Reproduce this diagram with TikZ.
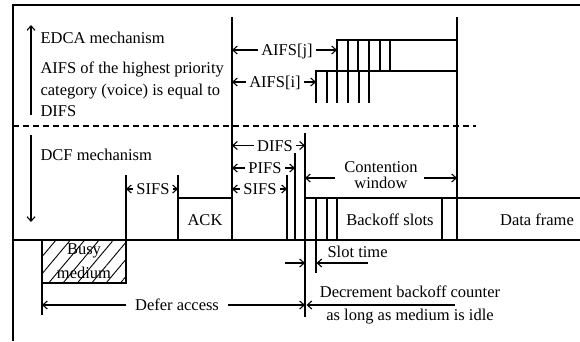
\documentclass[tikz,border=0pt]{standalone}
\usepackage{fontspec}
\setmainfont{Liberation Serif}
\usetikzlibrary{arrows.meta,patterns.meta}
\begin{document}
\begin{tikzpicture}[x=1pt,y=-1pt,line width=1.1pt,
  >={Straight Barb[length=4.5pt,width=8pt]},
  txt/.style={font=\fontsize{16.5}{20}\selectfont,inner sep=0pt},
  lbl/.style={txt,text height=11pt,text depth=0pt,inner xsep=3pt},
  frame/.style={line width=2.2pt},
  dashline/.style={dash pattern=on 6pt off 4pt},
  hatch/.style={pattern={Lines[angle=50,distance=11pt,line width=0.9pt]}}]
\useasboundingbox (0,0) rectangle (580,341);
% frame
\draw[frame] (13,341) -- (13,5) -- (580,5);
% mechanism arrows
\coordinate (eA) at (31,115); \coordinate (eB) at (31,25);
\coordinate (dA) at (31,135); \coordinate (dB) at (31,222);
\draw[->] (eA) -- (eB);
\draw[->] (dA) -- (dB);
% separator
\draw[dashline] (13,126) -- (476,126);
% long verticals and baseline
\coordinate (xA) at (232,17);
\coordinate (xR) at (457,17);
\draw (xA) -- (232,240);
\draw (xR) -- (457,240);
\draw (13,240) -- (580,240);
% AIFS stairs
\draw (337,71) -- (337,40) -- (457,40);
\foreach \x in {348,358,369,380,390} \draw (\x,40) -- (\x,71);
\draw (316,103) -- (316,71) -- (457,71);
\foreach \x in {327,337,348,359,369} \draw (\x,71) -- (\x,103);
% DCF lines
\coordinate (xS1) at (126,175);
\coordinate (xS2) at (178,175);
\coordinate (xS) at (287,175);
\coordinate (xP) at (295,153);
\coordinate (xD) at (305,133);
\draw (xS1) -- (126,240);
\draw (xS2) -- (178,240);
\draw (178,198) -- (232,198);
\draw (xS) -- (287,240);
\draw (xP) -- (295,241);
\draw (xD) -- (305,317);
\draw (305,198) -- (580,198);
\draw (316,198) -- (316,273);
\draw (327,198) -- (327,240);
\draw (337,198) -- (337,240);
\draw (442,198) -- (442,240);
% busy medium
\draw[hatch] (42,240) rectangle (126,283);
\draw (42,283) -- (42,315);
\node[txt,anchor=base] (busy) at (84,254) {Busy};
\node[txt,anchor=base] (medium) at (84,278) {medium};
% left texts
\node[txt,anchor=base west] (edca) at (40,43.3) {EDCA mechanism};
\node[txt,anchor=base west] (a1) at (40,73.5) {AIFS of the highest priority};
\node[txt,anchor=base west] (a2) at (40,95.7) {category (voice) is equal to};
\node[txt,anchor=base west] (a3) at (40,116.7) {DIFS};
\node[txt,anchor=base west] (dcf) at (40,160) {DCF mechanism};
% AIFS arrows
\node[lbl] (aj) at (287,50) {AIFS[j]};
\draw[->] (aj.west) -- (aj.west -| xA);
\draw[->] (aj.east) -- (337,50);
\node[lbl] (ai) at (275,82) {AIFS[i]};
\draw[->] (ai.west) -- (ai.west -| xA);
\draw[->] (ai.east) -- (316,82);
% DIFS / PIFS / SIFS
\node[lbl] (difs) at (275,145.5) {DIFS};
\draw[->] (difs.west) -- (difs.west -| xA);
\draw[->] (difs.east) -- (difs.east -| xD);
\node[lbl] (pifs) at (265,168) {PIFS};
\draw[->] (pifs.west) -- (pifs.west -| xA);
\draw[->] (pifs.east) -- (pifs.east -| xP);
\node[lbl] (sifsb) at (260,189) {SIFS};
\draw[->] (sifsb.west) -- (sifsb.west -| xA);
\draw[->] (sifsb.east) -- (sifsb.east -| xS);
\node[lbl] (sifsa) at (153,189) {SIFS};
\draw[->] (sifsa.west) -- (sifsa.west -| xS1);
\draw[->] (sifsa.east) -- (sifsa.east -| xS2);
% contention window
\node[txt,anchor=base] (cw1) at (381,172.5) {Contention};
\node[txt,anchor=base] (cw2) at (381,188) {window};
\coordinate (cwl) at (335,178);
\coordinate (cwr) at (424,178);
\draw[->] (cwl) -- (cwl -| xD);
\draw[->] (cwr) -- (cwr -| xR);
% boxes
\node[lbl] (ack) at (205,220) {ACK};
\node[lbl] (bo) at (390,220) {Backoff slots};
\node[lbl] (df) at (537,220) {Data frame};
% slot time
\node[txt,anchor=base west] (slot) at (327,257) {Slot time};
\coordinate (stl) at (285,263);
\coordinate (str) at (368,263);
\draw[->] (stl) -- (305,263);
\draw[->] (str) -- (316.5,263);
% defer access
\node[lbl,inner xsep=9pt] (defer) at (177,305) {Defer access};
\draw[->] (defer.west) -- (42,305);
\draw[->] (defer.east) -- (305,305);
% decrement
\node[txt,anchor=base] (dec1) at (410,297) {Decrement backoff counter};
\node[txt,anchor=base] (dec2) at (410,320) {as long as medium is idle};
\coordinate (decr) at (455,305);
\draw[->] (decr) -- (306.5,305);
\end{tikzpicture}
\end{document}
